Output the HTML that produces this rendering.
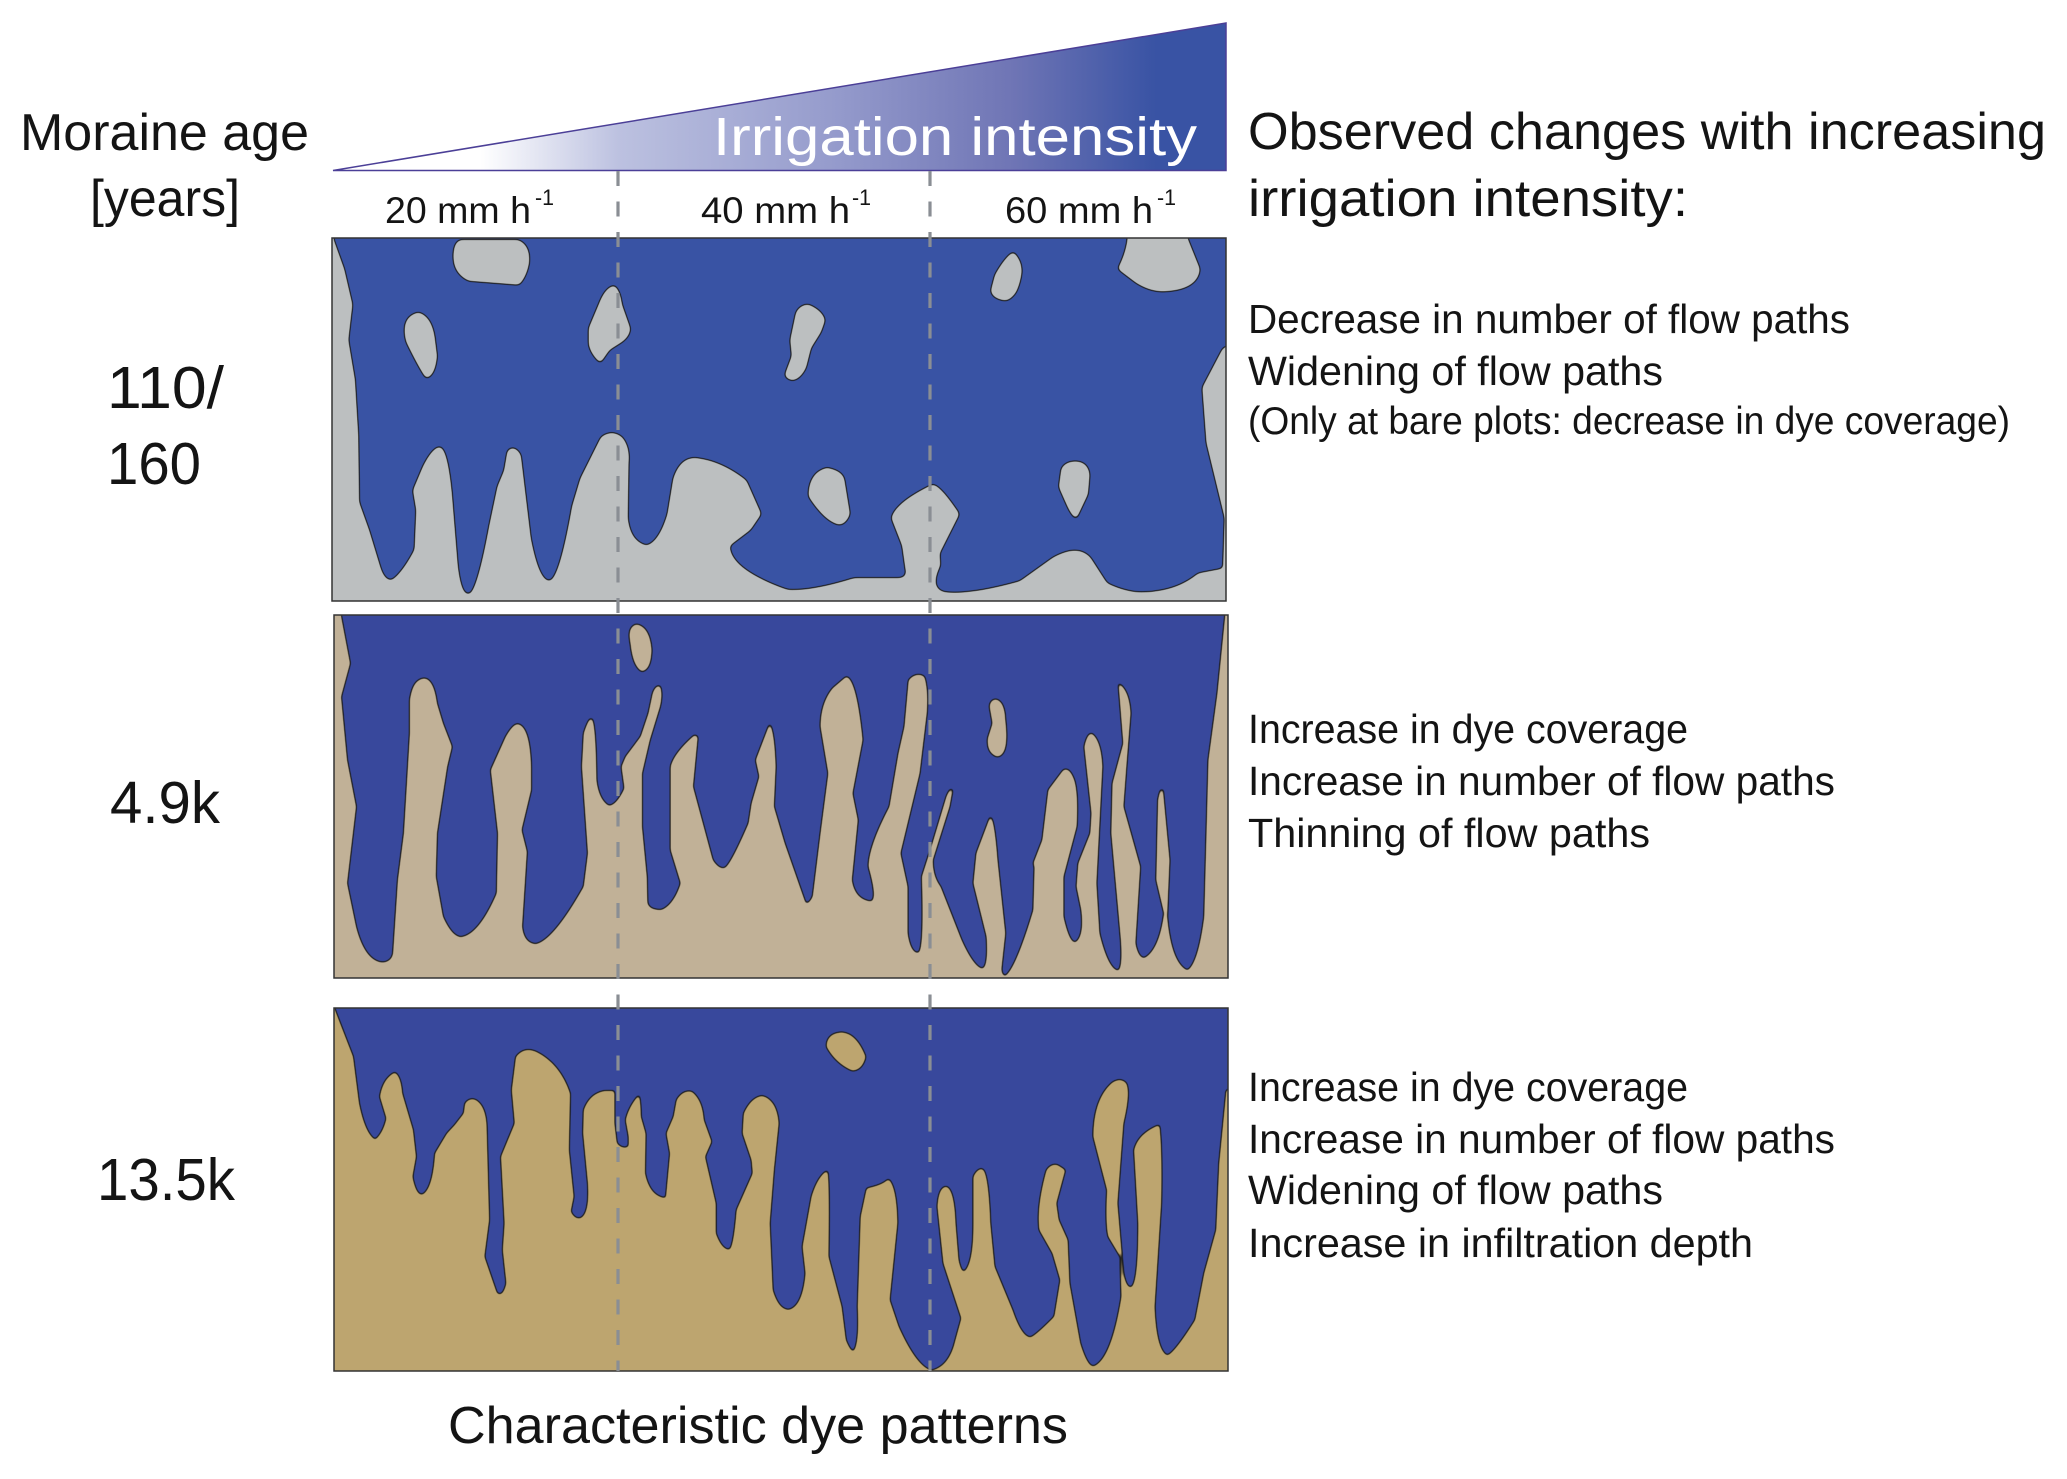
<!DOCTYPE html>
<html><head><meta charset="utf-8"><title>Characteristic dye patterns</title>
<style>
html,body{margin:0;padding:0;background:#fff}
svg{display:block}
text{font-family:"Liberation Sans",sans-serif;fill:#141414}
</style></head><body>
<svg xmlns="http://www.w3.org/2000/svg" width="2067" height="1479" viewBox="0 0 2067 1479">
<defs>
<linearGradient id="g" gradientUnits="userSpaceOnUse" x1="333" y1="0" x2="1227" y2="0">
<stop offset="0" stop-color="#fff"/><stop offset=".165" stop-color="#fff"/><stop offset=".32" stop-color="#bcc1e0"/><stop offset=".56" stop-color="#959bcc"/><stop offset=".76" stop-color="#6f75b5"/><stop offset=".92" stop-color="#3953a4"/><stop offset="1" stop-color="#3953a4"/></linearGradient>
<filter id="s1" filterUnits="userSpaceOnUse" x="300" y="200" width="960" height="440" color-interpolation-filters="sRGB">
<feGaussianBlur in="SourceAlpha" stdDeviation="2.5" result="b"/>
<feComponentTransfer in="b" result="m"><feFuncA type="linear" slope="6.3" intercept="-2.65"/></feComponentTransfer>
<feComponentTransfer in="b" result="n"><feFuncA type="linear" slope="7" intercept="-4.26"/></feComponentTransfer>
<feFlood flood-color="#1c1c1c"/><feComposite in2="m" operator="in" result="o"/>
<feFlood flood-color="#3953a4"/><feComposite in2="n" operator="in" result="i"/>
<feMerge><feMergeNode in="o"/><feMergeNode in="i"/></feMerge>
</filter>
<filter id="s2" filterUnits="userSpaceOnUse" x="300" y="580" width="960" height="830" color-interpolation-filters="sRGB">
<feGaussianBlur in="SourceAlpha" stdDeviation="1.5" result="b"/>
<feComponentTransfer in="b" result="m"><feFuncA type="linear" slope="3.8" intercept="-1.4"/></feComponentTransfer>
<feComponentTransfer in="b" result="n"><feFuncA type="linear" slope="5" intercept="-3.3"/></feComponentTransfer>
<feFlood flood-color="#1c1c1c"/><feComposite in2="m" operator="in" result="o"/>
<feFlood flood-color="#38489c"/><feComposite in2="n" operator="in" result="i"/>
<feMerge><feMergeNode in="o"/><feMergeNode in="i"/></feMerge>
</filter>
<clipPath id="c1"><rect x="332" y="238" width="894" height="363"/></clipPath>
<clipPath id="c2"><rect x="334" y="615" width="894" height="363"/></clipPath>
<clipPath id="c3"><rect x="334" y="1008" width="894" height="363"/></clipPath>
</defs>

<polygon points="333,170.5 1226,23 1226,170.5" fill="url(#g)" stroke="#4b3f97" stroke-width="1.5"/>
<text x="713" y="155" font-size="54" textLength="484" lengthAdjust="spacingAndGlyphs" style="fill:#fff">Irrigation intensity</text>

<text x="20" y="150" font-size="52" textLength="289" lengthAdjust="spacingAndGlyphs">Moraine age</text>
<text x="90" y="216" font-size="52" textLength="150" lengthAdjust="spacingAndGlyphs">[years]</text>
<text x="385" y="223" font-size="37" textLength="146" lengthAdjust="spacingAndGlyphs">20 mm h</text>
<text x="535" y="205" font-size="22" textLength="19" lengthAdjust="spacingAndGlyphs">-1</text>
<text x="701" y="223" font-size="37" textLength="149" lengthAdjust="spacingAndGlyphs">40 mm h</text>
<text x="852" y="205" font-size="22" textLength="19" lengthAdjust="spacingAndGlyphs">-1</text>
<text x="1005" y="223" font-size="37" textLength="148" lengthAdjust="spacingAndGlyphs">60 mm h</text>
<text x="1157" y="205" font-size="22" textLength="19" lengthAdjust="spacingAndGlyphs">-1</text>

<text x="107" y="408" font-size="59" textLength="117" lengthAdjust="spacingAndGlyphs">110/</text>
<text x="107" y="484" font-size="59" textLength="94" lengthAdjust="spacingAndGlyphs">160</text>
<text x="110" y="823" font-size="59" textLength="110" lengthAdjust="spacingAndGlyphs">4.9k</text>
<text x="97" y="1200" font-size="59" textLength="138" lengthAdjust="spacingAndGlyphs">13.5k</text>

<text x="1248" y="149" font-size="52" textLength="798" lengthAdjust="spacingAndGlyphs">Observed changes with increasing</text>
<text x="1248" y="216" font-size="52" textLength="440" lengthAdjust="spacingAndGlyphs">irrigation intensity:</text>
<text x="1248" y="333" font-size="41" textLength="602" lengthAdjust="spacingAndGlyphs">Decrease in number of flow paths</text>
<text x="1248" y="385" font-size="41" textLength="415" lengthAdjust="spacingAndGlyphs">Widening of flow paths</text>
<text x="1248" y="434" font-size="39" textLength="762" lengthAdjust="spacingAndGlyphs">(Only at bare plots: decrease in dye coverage)</text>
<text x="1248" y="743" font-size="41" textLength="440" lengthAdjust="spacingAndGlyphs">Increase in dye coverage</text>
<text x="1248" y="795" font-size="41" textLength="587" lengthAdjust="spacingAndGlyphs">Increase in number of flow paths</text>
<text x="1248" y="847" font-size="41" textLength="402" lengthAdjust="spacingAndGlyphs">Thinning of flow paths</text>
<text x="1248" y="1101" font-size="41" textLength="440" lengthAdjust="spacingAndGlyphs">Increase in dye coverage</text>
<text x="1248" y="1153" font-size="41" textLength="587" lengthAdjust="spacingAndGlyphs">Increase in number of flow paths</text>
<text x="1248" y="1204" font-size="41" textLength="415" lengthAdjust="spacingAndGlyphs">Widening of flow paths</text>
<text x="1248" y="1257" font-size="41" textLength="505" lengthAdjust="spacingAndGlyphs">Increase in infiltration depth</text>
<text x="448" y="1443" font-size="52" textLength="620" lengthAdjust="spacingAndGlyphs">Characteristic dye patterns</text>

<!-- Panel 1 -->
<rect x="332" y="238" width="894" height="363" fill="#bcbfc0"/>
<g clip-path="url(#c1)"><g filter="url(#s1)"><g transform="scale(.8292,.3954)">
<path fill="#000" fill-rule="evenodd" d="M402,560 L402,604 L415,680 L425,770 L420,860 L428,960 L432,1100 L433,1270 L445,1340 L458,1430 Q463,1468 472,1468 Q485,1450 500,1390 L502,1290 L498,1240 L510,1180 Q522,1130 531,1130 Q540,1140 545,1250 L552,1430 Q556,1504 565,1504 Q575,1500 590,1330 L600,1230 L608,1190 L612,1140 Q620,1122 628,1150 L640,1360 Q650,1470 663,1470 Q675,1460 690,1280 L700,1210 L725,1105 Q738,1085 750,1105 Q760,1130 758,1170 L757,1310 Q760,1370 780,1380 Q795,1370 805,1300 L812,1210 Q820,1158 838,1158 Q870,1165 900,1215 L918,1300 L905,1340 L880,1380 Q880,1440 950,1492 Q980,1495 1030,1462 L1085,1462 Q1095,1460 1092,1440 L1088,1380 L1075,1310 Q1080,1270 1125,1225 Q1135,1230 1157,1300 L1145,1350 L1133,1400 L1134,1430 Q1120,1490 1140,1498 Q1170,1505 1230,1470 L1270,1410 Q1300,1375 1315,1410 L1335,1475 Q1360,1500 1380,1498 Q1420,1495 1445,1450 L1475,1438 L1477,1310 L1455,1120 L1450,980 L1475,880 L1500,860 L1500,560 Z
M555,607 L625,607 Q640,620 638,665 Q635,700 626,720 L565,710 Q545,690 547,640 Q548,612 555,607Z
M505,790 Q520,800 524,850 L527,900 Q525,950 514,957 Q505,930 490,865 Q482,800 505,790Z
M741,722 Q748,735 750,770 L760,830 Q760,850 750,865 L735,885 L724,918 Q712,895 710,870 L710,830 L722,770 Q730,725 741,722Z
M975,770 Q992,785 995,810 L990,840 L978,880 L972,930 Q965,960 955,962 Q945,955 947,945 L955,900 L953,860 L960,790 Q965,770 975,770Z
M1222,637 Q1233,660 1232,690 Q1230,720 1225,740 Q1218,760 1212,760 Q1196,755 1195,735 L1200,695 Q1212,650 1222,637Z
M1360,575 L1432,575 L1432,602 L1447,680 Q1445,735 1400,737 Q1385,735 1370,715 L1348,680 Q1358,640 1360,602Z
M997,1183 Q1015,1190 1018,1210 L1025,1300 Q1020,1327 1012,1327 Q995,1320 975,1255 Q975,1195 997,1183Z
M1297,1167 Q1312,1167 1314,1200 L1312,1250 L1298,1312 Q1292,1305 1285,1270 L1277,1232 L1280,1185 Q1285,1167 1297,1167Z"/>
</g></g></g>
<rect x="332" y="238" width="894" height="363" fill="none" stroke="#333" stroke-width="1.5"/>

<!-- Panel 2 -->
<rect x="334" y="615" width="894" height="363" fill="#c1b197"/>
<g clip-path="url(#c2)"><g filter="url(#s2)"><g transform="translate(320,600) scale(.5995,.3333)">
<path fill="#000" fill-rule="evenodd" d="M35,20 L35,48 L50,190 L35,290 L45,480 L60,620 L45,850 L60,980 Q75,1085 105,1088 Q120,1085 122,1060 L130,840 L140,700 L150,400 L150,300 Q155,235 175,235 Q190,240 195,310 L205,370 L220,440 L212,500 L195,700 L193,830 L205,950 Q220,1010 235,1012 Q265,1005 295,880 L297,700 L285,510 L310,410 Q322,372 330,372 Q350,380 352,500 L352,570 L336,690 L345,755 L337,980 Q340,1030 360,1033 Q390,1020 440,860 L447,760 L437,500 L440,400 Q448,355 453,355 Q460,370 461,540 Q465,600 482,618 Q495,615 508,565 L503,500 L510,470 L535,410 L548,340 L555,280 Q560,255 567,258 Q572,280 567,320 L550,420 L537,520 L537,680 L545,830 L546,910 Q550,932 570,930 Q590,915 602,850 L585,750 L585,500 Q590,460 625,405 L630,410 L622,560 L640,680 L655,780 Q665,808 675,805 Q685,795 715,670 L720,610 L733,530 L727,480 L750,372 Q758,395 760,500 L757,620 L775,730 L810,910 Q815,915 822,890 L835,700 L848,520 L835,380 Q835,310 855,265 L878,230 Q895,240 905,420 L888,580 L897,660 L887,840 Q892,900 920,905 Q930,895 915,800 Q915,740 950,620 L965,460 L975,380 L982,240 Q995,215 1008,230 Q1015,270 1012,340 L1000,520 L968,760 L980,860 L980,1000 Q985,1060 998,1060 Q1008,1050 1004,830 L1020,740 L1045,590 Q1052,560 1055,570 L1050,620 L1022,780 Q1022,830 1035,860 L1070,1020 Q1090,1100 1105,1107 Q1115,1100 1112,1010 L1090,850 L1095,760 L1118,650 Q1125,660 1130,780 L1143,1000 L1137,1100 Q1135,1120 1142,1130 Q1160,1110 1190,930 L1192,800 L1190,790 L1205,720 L1215,570 L1240,510 Q1250,500 1258,540 Q1265,580 1262,680 L1240,830 L1240,950 Q1250,1030 1260,1028 Q1275,1010 1270,930 L1262,860 L1265,790 L1285,700 L1287,640 L1275,440 Q1280,400 1287,400 Q1303,420 1305,500 L1295,850 L1300,1000 Q1315,1110 1332,1113 Q1340,1095 1335,1000 L1320,700 L1322,550 L1340,430 L1332,250 Q1350,270 1352,340 L1345,500 L1340,620 L1368,800 L1360,1030 Q1365,1075 1375,1075 Q1400,1050 1408,940 L1395,840 L1398,600 Q1402,560 1406,570 L1417,780 L1413,950 Q1420,1090 1447,1112 Q1465,1090 1475,950 L1482,480 L1497,280 L1510,46 L1510,20 Z
M528,73 Q550,80 553,150 Q552,210 537,214 Q522,200 518,130 Q512,80 528,73Z
M1128,298 Q1142,305 1143,360 Q1150,465 1130,470 Q1112,460 1114,415 L1122,370 L1117,320 Q1118,298 1128,298Z"/>
</g></g></g>
<rect x="334" y="615" width="894" height="363" fill="none" stroke="#333" stroke-width="1.5"/>

<!-- Panel 3 -->
<rect x="334" y="1008" width="894" height="363" fill="#bda56f"/>
<g clip-path="url(#c3)"><g filter="url(#s2)"><g transform="translate(320,990) scale(.5995,.3333)">
<path fill="#000" fill-rule="evenodd" d="M24,30 L24,56 L55,200 L65,340 Q75,430 92,450 Q105,430 111,385 L100,320 Q105,265 125,247 Q135,260 137,310 L155,420 L160,500 L154,560 Q160,615 170,615 Q188,600 192,490 L212,430 L225,405 L240,370 L242,340 Q250,322 260,330 Q278,350 278,420 L282,690 L274,800 L295,910 Q305,925 311,880 L305,780 L308,700 L302,500 L325,400 L320,300 L327,200 Q340,170 360,185 Q400,220 417,310 L415,480 L423,620 L418,665 Q425,690 435,685 Q450,670 447,580 L439,430 L440,360 Q450,310 475,303 L491,303 L491,400 L495,460 Q505,480 515,470 L515,440 L510,390 Q515,350 532,315 Q535,340 535,380 L543,430 L542,550 Q550,620 577,625 L584,490 L578,430 L590,380 L595,330 Q605,300 620,305 Q638,330 640,390 L653,455 L642,500 L660,640 L660,730 Q670,780 683,780 Q690,770 695,660 L722,550 L720,510 L705,430 L707,370 Q720,320 738,318 Q762,330 765,400 L757,540 L750,700 L755,900 Q765,960 782,960 Q805,950 810,850 L805,770 L820,620 Q830,560 846,542 Q850,560 848,800 L870,950 L877,1050 Q885,1085 890,1085 Q900,1060 897,950 L902,680 L912,595 Q940,585 948,567 Q962,590 963,700 L950,930 L965,1010 Q995,1130 1020,1142 Q1050,1130 1060,1050 L1070,985 L1040,820 L1030,650 Q1032,590 1045,590 Q1058,600 1060,700 L1065,810 Q1070,850 1075,845 Q1090,820 1090,700 L1090,560 Q1097,535 1105,537 Q1115,550 1118,700 L1125,830 L1155,960 Q1170,1040 1185,1043 Q1195,1035 1225,980 L1235,870 L1222,790 L1200,720 Q1195,650 1212,540 Q1220,520 1230,525 L1243,540 L1228,640 L1232,690 L1247,750 L1250,880 L1268,1060 Q1280,1130 1290,1130 Q1320,1110 1337,920 L1335,800 L1315,740 Q1310,700 1313,600 L1290,440 Q1290,330 1320,280 Q1335,260 1345,280 Q1352,310 1340,400 L1330,640 L1340,850 Q1345,895 1353,893 Q1365,880 1365,700 L1358,480 Q1365,430 1400,405 Q1405,480 1403,640 L1392,950 Q1395,1080 1413,1097 Q1425,1090 1460,990 L1475,850 L1495,720 L1500,520 L1512,300 L1540,290 L1540,30 Z
M870,127 Q895,130 910,200 Q905,240 888,242 Q860,220 845,170 Q845,130 870,127Z"/>
</g></g></g>
<rect x="334" y="1008" width="894" height="363" fill="none" stroke="#333" stroke-width="1.5"/>

<!-- Dashed guide lines -->
<line x1="618" y1="171" x2="618" y2="1371" stroke="#8a8e94" stroke-width="3.2" stroke-dasharray="15 15.5"/>
<line x1="930" y1="171" x2="930" y2="1371" stroke="#8a8e94" stroke-width="3.2" stroke-dasharray="15 15.5"/>
</svg>
</body></html>
